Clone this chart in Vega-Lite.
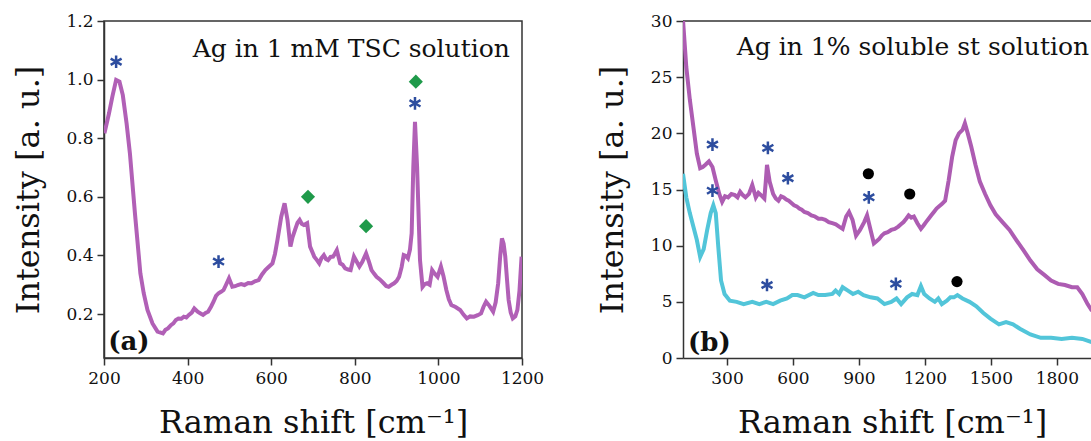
{
  "$schema": "https://vega.github.io/schema/vega-lite/v6.json",
  "background": "white",
  "padding": {"left": 11, "top": 11, "right": 0, "bottom": 0},
  "spacing": 161,
  "bounds": "flush",
  "config": {
    "font": "DejaVu Serif",
    "view": {"stroke": null},
    "axis": {
      "labelFont": "DejaVu Serif", "labelFontSize": 17, "labelColor": "#111",
      "titleFont": "DejaVu Serif", "titleFontSize": 32, "titleFontWeight": "normal", "titleColor": "#111",
      "tickColor": "#333", "domainColor": "#333", "tickSize": 7, "tickWidth": 1.5, "domainWidth": 1.5,
      "grid": false, "labelPadding": 4, "labelFlush": false, "labelOverlap": false
    },
    "axisX": {"labelPadding": 5}
  },
  "datasets": {
    "a_line": [
      {"shift": 201, "intensity": 0.817}, {"shift": 212, "intensity": 0.885}, {"shift": 220, "intensity": 0.942},
      {"shift": 229, "intensity": 0.999}, {"shift": 237, "intensity": 0.993}, {"shift": 245, "intensity": 0.947},
      {"shift": 254, "intensity": 0.851}, {"shift": 262, "intensity": 0.748}, {"shift": 274, "intensity": 0.544},
      {"shift": 287, "intensity": 0.339}, {"shift": 295, "intensity": 0.271}, {"shift": 304, "intensity": 0.214},
      {"shift": 316, "intensity": 0.168}, {"shift": 328, "intensity": 0.140}, {"shift": 341, "intensity": 0.134},
      {"shift": 347, "intensity": 0.146}, {"shift": 353, "intensity": 0.151}, {"shift": 360, "intensity": 0.162},
      {"shift": 366, "intensity": 0.168}, {"shift": 372, "intensity": 0.180}, {"shift": 378, "intensity": 0.185},
      {"shift": 385, "intensity": 0.184}, {"shift": 391, "intensity": 0.191}, {"shift": 397, "intensity": 0.188},
      {"shift": 403, "intensity": 0.197}, {"shift": 410, "intensity": 0.205}, {"shift": 416, "intensity": 0.219},
      {"shift": 424, "intensity": 0.208}, {"shift": 430, "intensity": 0.203}, {"shift": 437, "intensity": 0.197},
      {"shift": 443, "intensity": 0.204}, {"shift": 449, "intensity": 0.208}, {"shift": 456, "intensity": 0.225},
      {"shift": 462, "intensity": 0.242}, {"shift": 468, "intensity": 0.262}, {"shift": 474, "intensity": 0.271},
      {"shift": 480, "intensity": 0.276}, {"shift": 486, "intensity": 0.282}, {"shift": 492, "intensity": 0.300},
      {"shift": 499, "intensity": 0.322}, {"shift": 507, "intensity": 0.293}, {"shift": 514, "intensity": 0.295},
      {"shift": 520, "intensity": 0.299}, {"shift": 528, "intensity": 0.302}, {"shift": 536, "intensity": 0.299},
      {"shift": 545, "intensity": 0.306}, {"shift": 553, "intensity": 0.305}, {"shift": 561, "intensity": 0.312},
      {"shift": 570, "intensity": 0.316}, {"shift": 578, "intensity": 0.335}, {"shift": 586, "intensity": 0.350},
      {"shift": 595, "intensity": 0.362}, {"shift": 603, "intensity": 0.373}, {"shift": 609, "intensity": 0.405},
      {"shift": 615, "intensity": 0.453}, {"shift": 624, "intensity": 0.532}, {"shift": 632, "intensity": 0.578},
      {"shift": 639, "intensity": 0.521}, {"shift": 646, "intensity": 0.430}, {"shift": 651, "intensity": 0.462},
      {"shift": 657, "intensity": 0.487}, {"shift": 663, "intensity": 0.512}, {"shift": 668, "intensity": 0.521},
      {"shift": 673, "intensity": 0.508}, {"shift": 678, "intensity": 0.504}, {"shift": 686, "intensity": 0.510},
      {"shift": 693, "intensity": 0.430}, {"shift": 703, "intensity": 0.396}, {"shift": 709, "intensity": 0.385},
      {"shift": 715, "intensity": 0.373}, {"shift": 720, "intensity": 0.390}, {"shift": 726, "intensity": 0.401},
      {"shift": 731, "intensity": 0.388}, {"shift": 736, "intensity": 0.384}, {"shift": 742, "intensity": 0.395},
      {"shift": 748, "intensity": 0.396}, {"shift": 752, "intensity": 0.405}, {"shift": 757, "intensity": 0.418},
      {"shift": 765, "intensity": 0.373}, {"shift": 771, "intensity": 0.368}, {"shift": 777, "intensity": 0.356},
      {"shift": 784, "intensity": 0.352}, {"shift": 790, "intensity": 0.350}, {"shift": 798, "intensity": 0.396},
      {"shift": 804, "intensity": 0.380}, {"shift": 811, "intensity": 0.362}, {"shift": 818, "intensity": 0.378},
      {"shift": 827, "intensity": 0.407}, {"shift": 834, "intensity": 0.378}, {"shift": 840, "intensity": 0.350},
      {"shift": 846, "intensity": 0.338}, {"shift": 852, "intensity": 0.327}, {"shift": 860, "intensity": 0.318},
      {"shift": 869, "intensity": 0.305}, {"shift": 875, "intensity": 0.296}, {"shift": 881, "intensity": 0.293},
      {"shift": 888, "intensity": 0.300}, {"shift": 894, "intensity": 0.305}, {"shift": 900, "intensity": 0.313},
      {"shift": 906, "intensity": 0.327}, {"shift": 912, "intensity": 0.360}, {"shift": 917, "intensity": 0.401},
      {"shift": 922, "intensity": 0.398}, {"shift": 927, "intensity": 0.390}, {"shift": 932, "intensity": 0.420},
      {"shift": 936, "intensity": 0.475}, {"shift": 940, "intensity": 0.703}, {"shift": 944, "intensity": 0.856},
      {"shift": 949, "intensity": 0.703}, {"shift": 953, "intensity": 0.520}, {"shift": 956, "intensity": 0.384},
      {"shift": 962, "intensity": 0.293}, {"shift": 967, "intensity": 0.302}, {"shift": 973, "intensity": 0.305},
      {"shift": 979, "intensity": 0.300}, {"shift": 985, "intensity": 0.350}, {"shift": 991, "intensity": 0.338},
      {"shift": 998, "intensity": 0.327}, {"shift": 1006, "intensity": 0.362}, {"shift": 1012, "intensity": 0.330},
      {"shift": 1019, "intensity": 0.282}, {"shift": 1025, "intensity": 0.250}, {"shift": 1031, "intensity": 0.231},
      {"shift": 1041, "intensity": 0.224}, {"shift": 1052, "intensity": 0.214}, {"shift": 1060, "intensity": 0.198},
      {"shift": 1068, "intensity": 0.185}, {"shift": 1076, "intensity": 0.192}, {"shift": 1085, "intensity": 0.191},
      {"shift": 1094, "intensity": 0.196}, {"shift": 1102, "intensity": 0.202}, {"shift": 1108, "intensity": 0.225},
      {"shift": 1114, "intensity": 0.242}, {"shift": 1122, "intensity": 0.228}, {"shift": 1131, "intensity": 0.208},
      {"shift": 1137, "intensity": 0.240}, {"shift": 1143, "intensity": 0.305}, {"shift": 1148, "intensity": 0.400},
      {"shift": 1152, "intensity": 0.458}, {"shift": 1156, "intensity": 0.440}, {"shift": 1160, "intensity": 0.396},
      {"shift": 1164, "intensity": 0.320}, {"shift": 1168, "intensity": 0.248}, {"shift": 1173, "intensity": 0.205},
      {"shift": 1178, "intensity": 0.185}, {"shift": 1184, "intensity": 0.192}, {"shift": 1189, "intensity": 0.214},
      {"shift": 1194, "intensity": 0.280}, {"shift": 1199, "intensity": 0.396}
    ],
    "a_marks": [
      {"shift": 229, "intensity": 1.061, "type": "asterisk"},
      {"shift": 474, "intensity": 0.379, "type": "asterisk"},
      {"shift": 944, "intensity": 0.919, "type": "asterisk"},
      {"shift": 688, "intensity": 0.600, "type": "diamond"},
      {"shift": 827, "intensity": 0.500, "type": "diamond"},
      {"shift": 946, "intensity": 0.993, "type": "diamond"}
    ],
    "a_text": [
      {"shift": 1171, "intensity": 1.077, "label": "Ag in 1 mM TSC solution"}
    ],
    "a_tag": [
      {"shift": 210, "intensity": 0.077, "label": "(a)"}
    ],
    "b_line": [
      {"shift": 100, "intensity": 30.1, "series": "upper"}, {"shift": 115, "intensity": 25.9, "series": "upper"},
      {"shift": 131, "intensity": 23.0, "series": "upper"}, {"shift": 147, "intensity": 20.6, "series": "upper"},
      {"shift": 163, "intensity": 18.2, "series": "upper"}, {"shift": 178, "intensity": 16.9, "series": "upper"},
      {"shift": 190, "intensity": 17.0, "series": "upper"}, {"shift": 202, "intensity": 17.2, "series": "upper"},
      {"shift": 218, "intensity": 17.5, "series": "upper"}, {"shift": 234, "intensity": 17.0, "series": "upper"},
      {"shift": 249, "intensity": 15.8, "series": "upper"}, {"shift": 265, "intensity": 14.6, "series": "upper"},
      {"shift": 278, "intensity": 13.9, "series": "upper"}, {"shift": 291, "intensity": 14.4, "series": "upper"},
      {"shift": 305, "intensity": 14.3, "series": "upper"}, {"shift": 320, "intensity": 14.6, "series": "upper"},
      {"shift": 336, "intensity": 14.5, "series": "upper"}, {"shift": 348, "intensity": 14.3, "series": "upper"},
      {"shift": 360, "intensity": 14.8, "series": "upper"}, {"shift": 372, "intensity": 14.5, "series": "upper"},
      {"shift": 384, "intensity": 14.3, "series": "upper"}, {"shift": 400, "intensity": 14.6, "series": "upper"},
      {"shift": 415, "intensity": 15.4, "series": "upper"}, {"shift": 431, "intensity": 14.3, "series": "upper"},
      {"shift": 443, "intensity": 14.7, "series": "upper"}, {"shift": 455, "intensity": 14.5, "series": "upper"},
      {"shift": 470, "intensity": 14.2, "series": "upper"}, {"shift": 476, "intensity": 15.6, "series": "upper"},
      {"shift": 482, "intensity": 17.2, "series": "upper"}, {"shift": 494, "intensity": 15.7, "series": "upper"},
      {"shift": 510, "intensity": 14.6, "series": "upper"}, {"shift": 522, "intensity": 14.2, "series": "upper"},
      {"shift": 534, "intensity": 14.0, "series": "upper"}, {"shift": 546, "intensity": 14.4, "series": "upper"},
      {"shift": 558, "intensity": 14.3, "series": "upper"}, {"shift": 570, "intensity": 14.1, "series": "upper"},
      {"shift": 581, "intensity": 14.0, "series": "upper"}, {"shift": 593, "intensity": 13.8, "series": "upper"},
      {"shift": 605, "intensity": 13.6, "series": "upper"}, {"shift": 617, "intensity": 13.5, "series": "upper"},
      {"shift": 629, "intensity": 13.3, "series": "upper"}, {"shift": 640, "intensity": 13.2, "series": "upper"},
      {"shift": 652, "intensity": 13.0, "series": "upper"}, {"shift": 668, "intensity": 12.9, "series": "upper"},
      {"shift": 684, "intensity": 12.7, "series": "upper"}, {"shift": 700, "intensity": 12.6, "series": "upper"},
      {"shift": 716, "intensity": 12.4, "series": "upper"}, {"shift": 731, "intensity": 12.4, "series": "upper"},
      {"shift": 747, "intensity": 12.3, "series": "upper"}, {"shift": 763, "intensity": 12.1, "series": "upper"},
      {"shift": 779, "intensity": 12.0, "series": "upper"}, {"shift": 795, "intensity": 11.9, "series": "upper"},
      {"shift": 810, "intensity": 11.7, "series": "upper"}, {"shift": 826, "intensity": 11.5, "series": "upper"},
      {"shift": 842, "intensity": 12.6, "series": "upper"}, {"shift": 855, "intensity": 13.0, "series": "upper"},
      {"shift": 871, "intensity": 12.3, "series": "upper"}, {"shift": 887, "intensity": 10.9, "series": "upper"},
      {"shift": 905, "intensity": 11.4, "series": "upper"}, {"shift": 924, "intensity": 12.1, "series": "upper"},
      {"shift": 937, "intensity": 12.7, "series": "upper"}, {"shift": 953, "intensity": 11.4, "series": "upper"},
      {"shift": 968, "intensity": 10.2, "series": "upper"}, {"shift": 980, "intensity": 10.4, "series": "upper"},
      {"shift": 992, "intensity": 10.6, "series": "upper"}, {"shift": 1004, "intensity": 10.9, "series": "upper"},
      {"shift": 1016, "intensity": 11.1, "series": "upper"}, {"shift": 1031, "intensity": 11.2, "series": "upper"},
      {"shift": 1047, "intensity": 11.4, "series": "upper"}, {"shift": 1063, "intensity": 11.5, "series": "upper"},
      {"shift": 1079, "intensity": 11.7, "series": "upper"}, {"shift": 1091, "intensity": 11.9, "series": "upper"},
      {"shift": 1103, "intensity": 12.1, "series": "upper"}, {"shift": 1115, "intensity": 12.4, "series": "upper"},
      {"shift": 1126, "intensity": 12.7, "series": "upper"}, {"shift": 1138, "intensity": 12.5, "series": "upper"},
      {"shift": 1150, "intensity": 12.6, "series": "upper"}, {"shift": 1166, "intensity": 12.0, "series": "upper"},
      {"shift": 1182, "intensity": 11.5, "series": "upper"}, {"shift": 1194, "intensity": 11.8, "series": "upper"},
      {"shift": 1205, "intensity": 12.1, "series": "upper"}, {"shift": 1217, "intensity": 12.4, "series": "upper"},
      {"shift": 1229, "intensity": 12.7, "series": "upper"}, {"shift": 1241, "intensity": 13.0, "series": "upper"},
      {"shift": 1253, "intensity": 13.3, "series": "upper"}, {"shift": 1265, "intensity": 13.5, "series": "upper"},
      {"shift": 1277, "intensity": 13.7, "series": "upper"}, {"shift": 1292, "intensity": 14.0, "series": "upper"},
      {"shift": 1308, "intensity": 15.8, "series": "upper"}, {"shift": 1324, "intensity": 17.9, "series": "upper"},
      {"shift": 1340, "intensity": 19.4, "series": "upper"}, {"shift": 1355, "intensity": 20.0, "series": "upper"},
      {"shift": 1371, "intensity": 20.3, "series": "upper"}, {"shift": 1382, "intensity": 20.9, "series": "upper"},
      {"shift": 1395, "intensity": 20.0, "series": "upper"}, {"shift": 1411, "intensity": 18.8, "series": "upper"},
      {"shift": 1430, "intensity": 17.2, "series": "upper"}, {"shift": 1450, "intensity": 15.7, "series": "upper"},
      {"shift": 1474, "intensity": 14.6, "series": "upper"}, {"shift": 1498, "intensity": 13.6, "series": "upper"},
      {"shift": 1522, "intensity": 12.8, "series": "upper"}, {"shift": 1553, "intensity": 12.1, "series": "upper"},
      {"shift": 1585, "intensity": 11.4, "series": "upper"}, {"shift": 1616, "intensity": 10.5, "series": "upper"},
      {"shift": 1648, "intensity": 9.6, "series": "upper"}, {"shift": 1679, "intensity": 8.7, "series": "upper"},
      {"shift": 1711, "intensity": 7.9, "series": "upper"}, {"shift": 1743, "intensity": 7.4, "series": "upper"},
      {"shift": 1774, "intensity": 6.9, "series": "upper"}, {"shift": 1806, "intensity": 6.6, "series": "upper"},
      {"shift": 1837, "intensity": 6.5, "series": "upper"}, {"shift": 1869, "intensity": 6.3, "series": "upper"},
      {"shift": 1893, "intensity": 6.3, "series": "upper"}, {"shift": 1916, "intensity": 5.7, "series": "upper"},
      {"shift": 1940, "intensity": 4.8, "series": "upper"}, {"shift": 1960, "intensity": 4.2, "series": "upper"},

      {"shift": 100, "intensity": 16.4, "series": "lower"}, {"shift": 115, "intensity": 14.3, "series": "lower"},
      {"shift": 131, "intensity": 12.9, "series": "lower"}, {"shift": 147, "intensity": 11.7, "series": "lower"},
      {"shift": 163, "intensity": 10.5, "series": "lower"}, {"shift": 178, "intensity": 9.0, "series": "lower"},
      {"shift": 194, "intensity": 9.7, "series": "lower"}, {"shift": 210, "intensity": 11.4, "series": "lower"},
      {"shift": 226, "intensity": 12.9, "series": "lower"}, {"shift": 238, "intensity": 13.6, "series": "lower"},
      {"shift": 249, "intensity": 12.9, "series": "lower"}, {"shift": 260, "intensity": 10.0, "series": "lower"},
      {"shift": 273, "intensity": 6.9, "series": "lower"}, {"shift": 289, "intensity": 5.7, "series": "lower"},
      {"shift": 313, "intensity": 5.1, "series": "lower"}, {"shift": 344, "intensity": 5.0, "series": "lower"},
      {"shift": 376, "intensity": 4.8, "series": "lower"}, {"shift": 415, "intensity": 5.0, "series": "lower"},
      {"shift": 447, "intensity": 4.8, "series": "lower"}, {"shift": 479, "intensity": 5.0, "series": "lower"},
      {"shift": 510, "intensity": 4.8, "series": "lower"}, {"shift": 542, "intensity": 5.1, "series": "lower"},
      {"shift": 573, "intensity": 5.3, "series": "lower"}, {"shift": 597, "intensity": 5.6, "series": "lower"},
      {"shift": 621, "intensity": 5.6, "series": "lower"}, {"shift": 652, "intensity": 5.4, "series": "lower"},
      {"shift": 692, "intensity": 5.8, "series": "lower"}, {"shift": 716, "intensity": 5.6, "series": "lower"},
      {"shift": 747, "intensity": 5.6, "series": "lower"}, {"shift": 779, "intensity": 5.7, "series": "lower"},
      {"shift": 794, "intensity": 6.0, "series": "lower"}, {"shift": 810, "intensity": 5.7, "series": "lower"},
      {"shift": 826, "intensity": 6.3, "series": "lower"}, {"shift": 850, "intensity": 6.0, "series": "lower"},
      {"shift": 873, "intensity": 5.7, "series": "lower"}, {"shift": 897, "intensity": 5.9, "series": "lower"},
      {"shift": 921, "intensity": 5.6, "series": "lower"}, {"shift": 953, "intensity": 5.4, "series": "lower"},
      {"shift": 984, "intensity": 5.3, "series": "lower"}, {"shift": 1016, "intensity": 4.8, "series": "lower"},
      {"shift": 1047, "intensity": 5.0, "series": "lower"}, {"shift": 1071, "intensity": 5.3, "series": "lower"},
      {"shift": 1092, "intensity": 4.8, "series": "lower"}, {"shift": 1119, "intensity": 5.4, "series": "lower"},
      {"shift": 1142, "intensity": 5.7, "series": "lower"}, {"shift": 1166, "intensity": 5.6, "series": "lower"},
      {"shift": 1182, "intensity": 6.4, "series": "lower"}, {"shift": 1197, "intensity": 5.7, "series": "lower"},
      {"shift": 1221, "intensity": 5.3, "series": "lower"}, {"shift": 1245, "intensity": 5.0, "series": "lower"},
      {"shift": 1261, "intensity": 5.3, "series": "lower"}, {"shift": 1277, "intensity": 4.8, "series": "lower"},
      {"shift": 1300, "intensity": 5.1, "series": "lower"}, {"shift": 1316, "intensity": 5.4, "series": "lower"},
      {"shift": 1332, "intensity": 5.4, "series": "lower"}, {"shift": 1348, "intensity": 5.6, "series": "lower"},
      {"shift": 1371, "intensity": 5.3, "series": "lower"}, {"shift": 1403, "intensity": 5.0, "series": "lower"},
      {"shift": 1434, "intensity": 4.6, "series": "lower"}, {"shift": 1466, "intensity": 4.0, "series": "lower"},
      {"shift": 1498, "intensity": 3.5, "series": "lower"}, {"shift": 1537, "intensity": 3.0, "series": "lower"},
      {"shift": 1569, "intensity": 3.2, "series": "lower"}, {"shift": 1601, "intensity": 3.0, "series": "lower"},
      {"shift": 1632, "intensity": 2.6, "series": "lower"}, {"shift": 1680, "intensity": 2.1, "series": "lower"},
      {"shift": 1727, "intensity": 1.8, "series": "lower"}, {"shift": 1774, "intensity": 1.8, "series": "lower"},
      {"shift": 1822, "intensity": 1.7, "series": "lower"}, {"shift": 1869, "intensity": 1.8, "series": "lower"},
      {"shift": 1916, "intensity": 1.7, "series": "lower"}, {"shift": 1960, "intensity": 1.4, "series": "lower"}
    ],
    "b_marks": [
      {"shift": 234, "intensity": 19.0, "type": "asterisk"},
      {"shift": 486, "intensity": 18.7, "type": "asterisk"},
      {"shift": 577, "intensity": 16.0, "type": "asterisk"},
      {"shift": 234, "intensity": 14.9, "type": "asterisk"},
      {"shift": 945, "intensity": 14.3, "type": "asterisk"},
      {"shift": 482, "intensity": 6.5, "type": "asterisk"},
      {"shift": 1068, "intensity": 6.6, "type": "asterisk"},
      {"shift": 943, "intensity": 16.4, "type": "dot"},
      {"shift": 1131, "intensity": 14.6, "type": "dot"},
      {"shift": 1346, "intensity": 6.8, "type": "dot"}
    ],
    "b_text": [
      {"shift": 1947, "intensity": 27.0, "label": "Ag in 1% soluble st solution"}
    ],
    "b_tag": [
      {"shift": 123, "intensity": 0.65, "label": "(b)"}
    ],
    "b_top": [
      {"intensity": 30}
    ]
  },
  "hconcat": [
    {
      "width": 418,
      "height": 337,
      "view": {"stroke": "#333", "strokeWidth": 1.5},
      "encoding": {
        "x": {"field": "shift", "type": "quantitative",
              "scale": {"domain": [200, 1200], "nice": false, "zero": false},
              "axis": {"values": [200, 400, 600, 800, 1000, 1200], "format": "d", "title": "Raman shift [cm⁻¹]", "titleY": 74, "titleBaseline": "alphabetic"}},
        "y": {"field": "intensity", "type": "quantitative",
              "scale": {"domain": [0.05, 1.2], "nice": false, "zero": false},
              "axis": {"values": [0.2, 0.4, 0.6, 0.8, 1.0, 1.2], "format": ".1f", "title": "Intensity [a. u.]", "titleX": -66, "titleBaseline": "alphabetic"}}
      },
      "layer": [
        {"data": {"name": "a_line"}, "mark": {"type": "line", "color": "#b160b6", "strokeWidth": 4, "clip": true}},
        {"data": {"name": "a_marks"}, "transform": [{"filter": "datum.type === 'asterisk'"}],
         "mark": {"type": "point", "shape": "M0,-1L0,1M-0.866,-0.5L0.866,0.5M-0.866,0.5L0.866,-0.5", "filled": false, "stroke": "#2d4d9f", "strokeWidth": 2.5, "size": 160, "opacity": 1}},
        {"data": {"name": "a_marks"}, "transform": [{"filter": "datum.type === 'diamond'"}],
         "mark": {"type": "point", "shape": "diamond", "filled": true, "color": "#1f9a4a", "size": 200, "opacity": 1}},
        {"data": {"name": "a_text"}, "mark": {"type": "text", "align": "right", "baseline": "alphabetic", "font": "DejaVu Serif", "fontSize": 25, "color": "#111"},
         "encoding": {"text": {"field": "label"}}},
        {"data": {"name": "a_tag"}, "mark": {"type": "text", "align": "left", "baseline": "alphabetic", "font": "DejaVu Serif", "fontSize": 26, "fontWeight": "bold", "color": "#111"},
         "encoding": {"text": {"field": "label"}}}
      ]
    },
    {
      "width": 409,
      "height": 337,
      "view": {"stroke": null},
      "encoding": {
        "x": {"field": "shift", "type": "quantitative",
              "scale": {"domain": [100, 1960], "nice": false, "zero": false},
              "axis": {"values": [300, 600, 900, 1200, 1500, 1800], "format": "d", "title": "Raman shift [cm⁻¹]", "titleY": 74, "titleX": 209, "titleBaseline": "alphabetic"}},
        "y": {"field": "intensity", "type": "quantitative",
              "scale": {"domain": [0, 30], "nice": false, "zero": false},
              "axis": {"values": [0, 5, 10, 15, 20, 25, 30], "title": "Intensity [a. u.]", "titleX": -61, "titleBaseline": "alphabetic"}}
      },
      "layer": [
        {"data": {"name": "b_top"}, "mark": {"type": "rule", "color": "#333", "strokeWidth": 1.5},
         "encoding": {"x": null}},
        {"data": {"name": "b_line"}, "mark": {"type": "line", "strokeWidth": 4, "clip": true},
         "encoding": {"color": {"field": "series", "type": "nominal", "scale": {"domain": ["upper", "lower"], "range": ["#ad5cb2", "#52c5d9"]}, "legend": null}}},
        {"data": {"name": "b_marks"}, "transform": [{"filter": "datum.type === 'asterisk'"}],
         "mark": {"type": "point", "shape": "M0,-1L0,1M-0.866,-0.5L0.866,0.5M-0.866,0.5L0.866,-0.5", "filled": false, "stroke": "#2d4d9f", "strokeWidth": 2.5, "size": 160, "opacity": 1}},
        {"data": {"name": "b_marks"}, "transform": [{"filter": "datum.type === 'dot'"}],
         "mark": {"type": "point", "shape": "circle", "filled": true, "color": "#000", "size": 125, "opacity": 1}},
        {"data": {"name": "b_text"}, "mark": {"type": "text", "align": "right", "baseline": "alphabetic", "font": "DejaVu Serif", "fontSize": 25, "color": "#111"},
         "encoding": {"text": {"field": "label"}}},
        {"data": {"name": "b_tag"}, "mark": {"type": "text", "align": "left", "baseline": "alphabetic", "font": "DejaVu Serif", "fontSize": 26, "fontWeight": "bold", "color": "#111"},
         "encoding": {"text": {"field": "label"}}}
      ]
    }
  ]
}
